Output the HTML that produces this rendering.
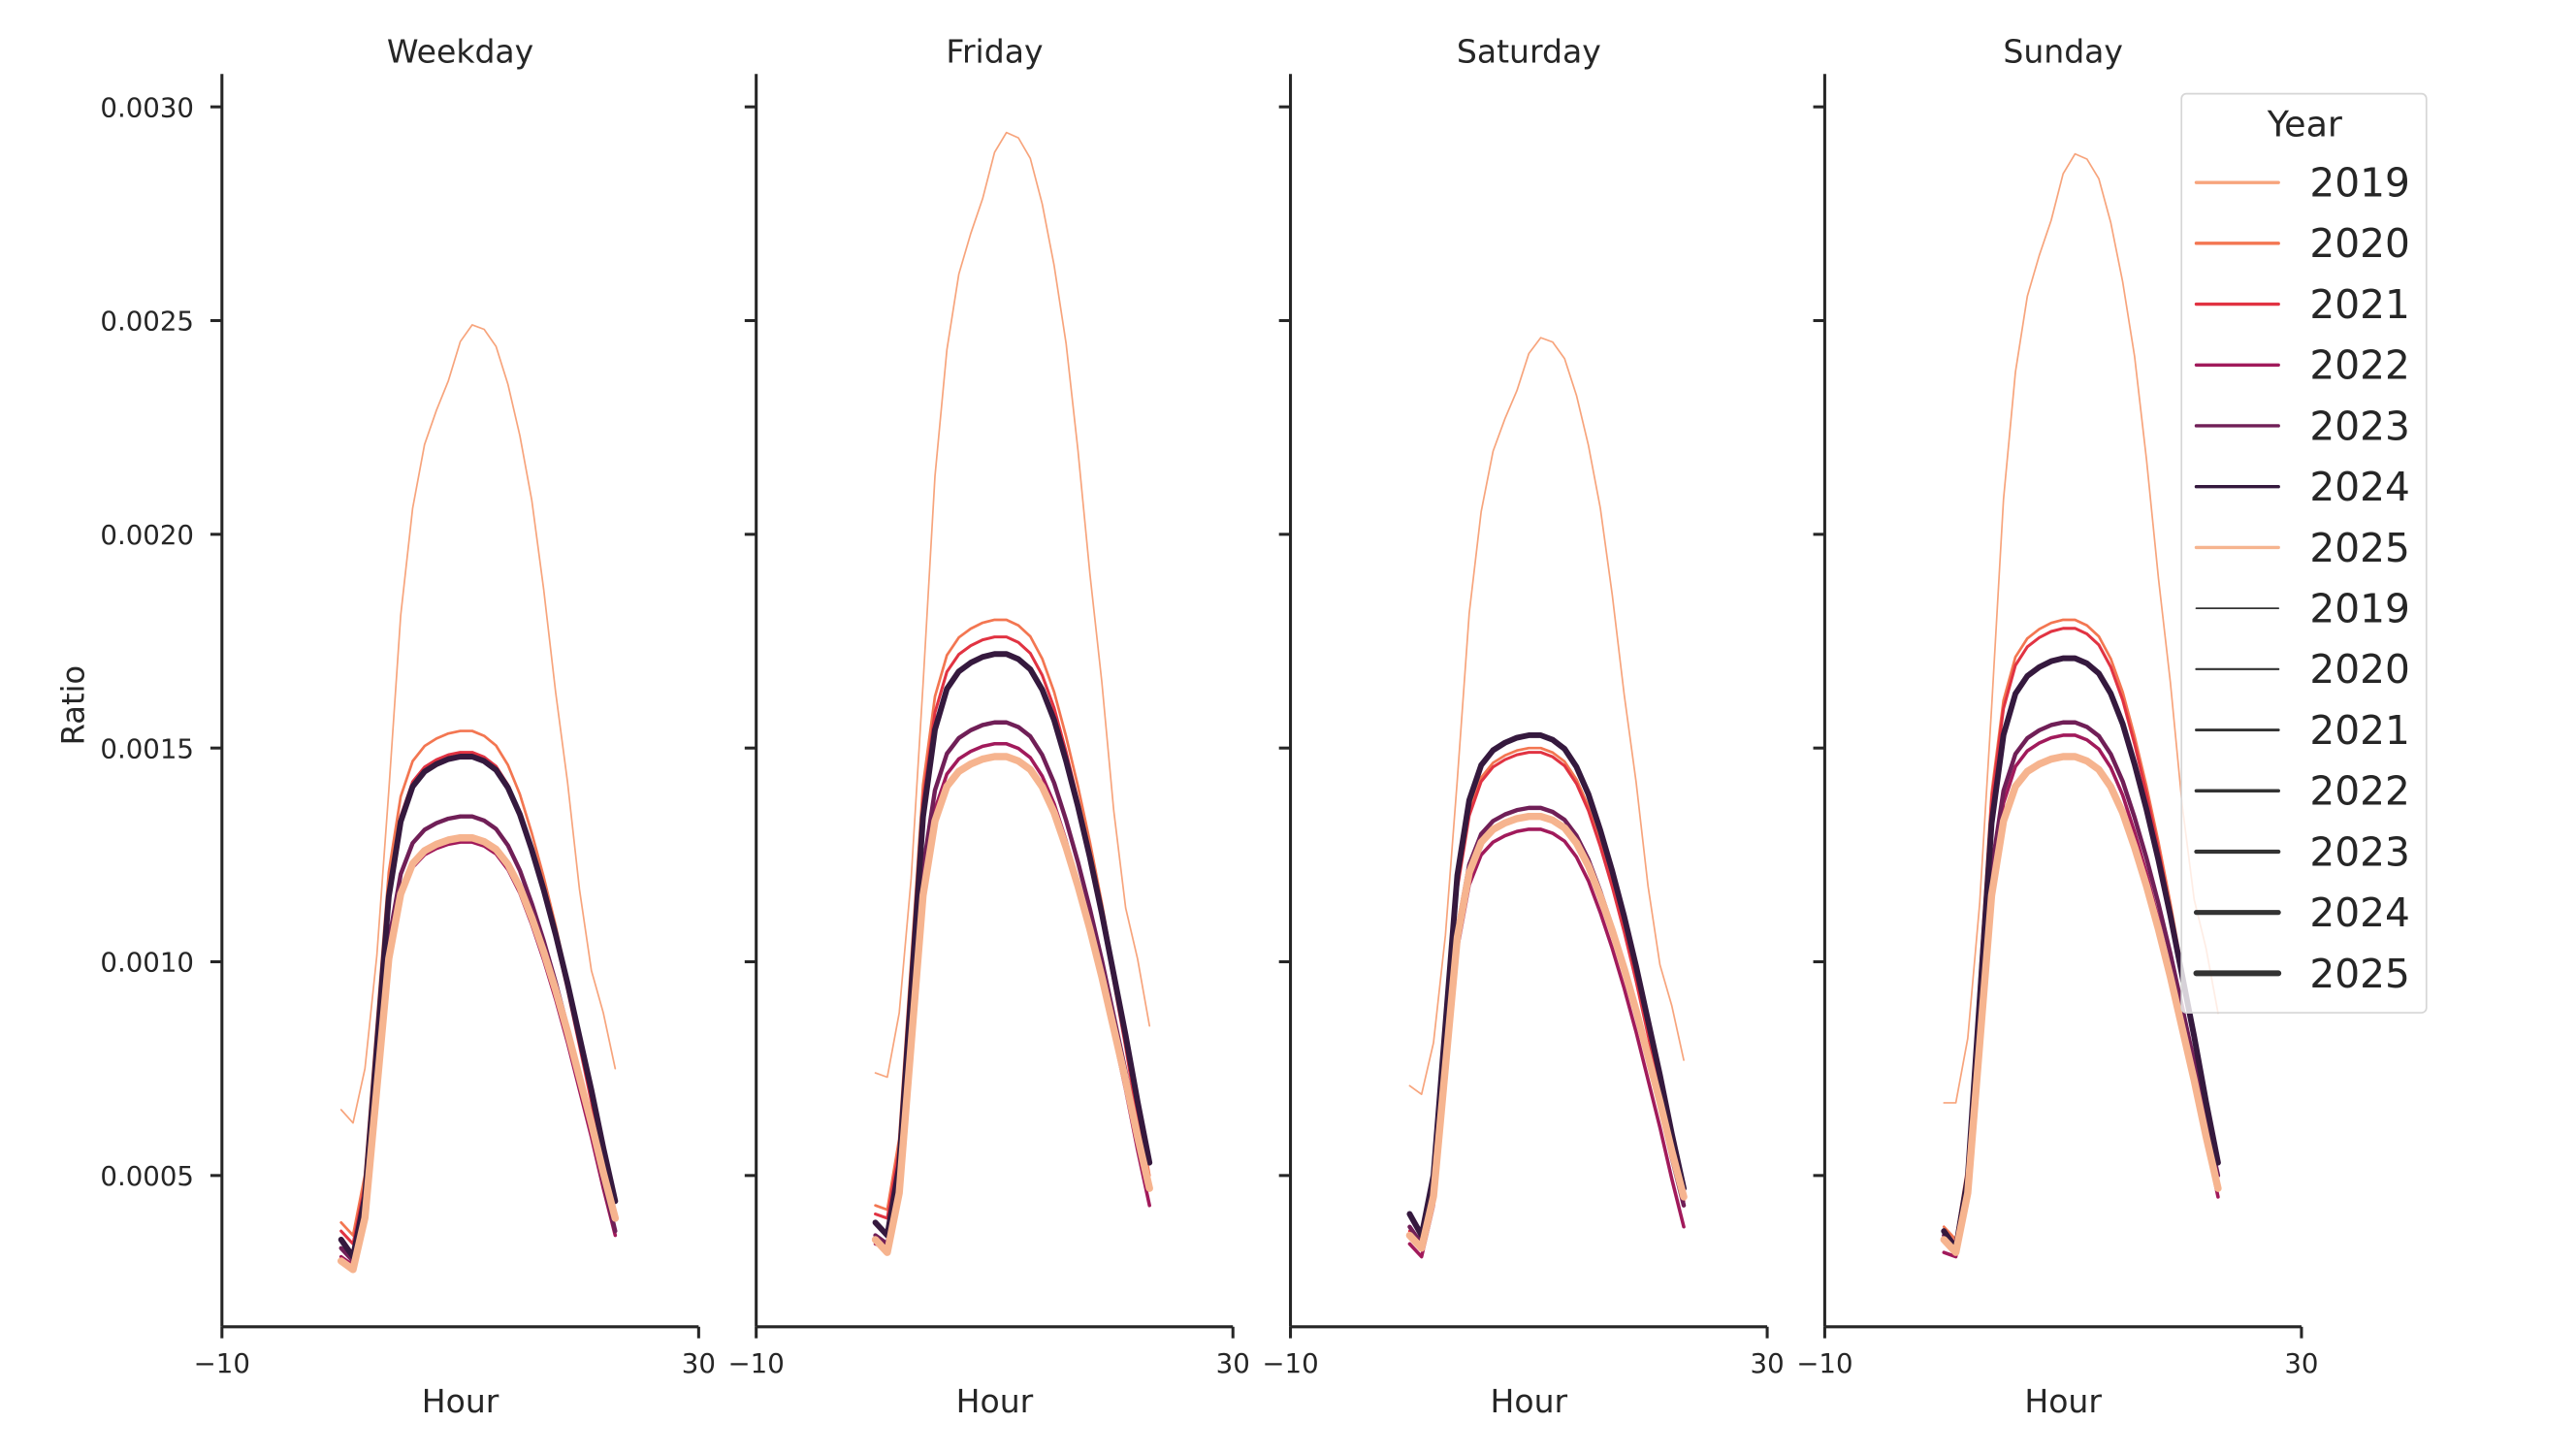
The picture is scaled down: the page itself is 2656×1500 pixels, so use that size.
<!DOCTYPE html>
<html><head><meta charset="utf-8"><style>
html,body{margin:0;padding:0;background:#fff}
svg{display:block}
text{font-family:"DejaVu Sans","Liberation Sans",sans-serif;fill:#262626}
</style></head><body>
<svg id="s" width="2656" height="1500" viewBox="0 0 1567 885" preserveAspectRatio="none" xmlns="http://www.w3.org/2000/svg"></svg>
<script>
var s=document.getElementById('s');var h='';
var panels=[["Weekday",135],["Friday",460],["Saturday",785],["Sunday",1110]];
function Y(v){return 715-(v-0.0005)*260000;}
var r19=[0.017,0,0.068,0.21,0.416,0.636,0.77,0.85,0.893,0.93,0.979,1];
var f19=[1,0.994,0.971,0.92,0.851,0.764,0.644,0.506,0.385,0.241,0.132,0.075,0];
var rO=[0.04,0,0.12,0.42,0.72,0.87,0.94,0.97,0.985,0.995,1,1];
var fO=[1,0.99,0.97,0.93,0.87,0.79,0.7,0.6,0.49,0.37,0.25,0.12,0];
var cols=["#f7a47c","#f37651","#e13342","#a11a5b","#701f57","#35193e","#f6b48f"];
var wid=[1.0,1.6,1.8,2.1,2.6,3.5,4.4];
var D=[
[[.000654,.000623,.00249,.00075],[.00039,.00036,.00154,.0004],[.00037,.00034,.00149,.0004],[.00031,.00029,.00128,.00036],[.00033,.0003,.00134,.00037],[.00035,.00031,.00148,.00044],[.0003,.00028,.00129,.0004]],
[[.00074,.00073,.00294,.00085],[.00043,.00042,.0018,.0005],[.00041,.0004,.00176,.00048],[.00034,.00033,.00151,.00043],[.00036,.00034,.00156,.00047],[.00039,.00036,.00172,.00053],[.00035,.00032,.00148,.00047]],
[[.00071,.00069,.00246,.00077],[.00037,.00035,.0015,.00045],[.00037,.00035,.00149,.00044],[.00034,.00031,.00131,.00038],[.00038,.00034,.00136,.00043],[.00041,.00036,.00153,.00047],[.00036,.00033,.00134,.00045]],
[[.00067,.00067,.00289,.00088],[.00038,.00035,.0018,.0005],[.00037,.00034,.00178,.00049],[.00032,.00031,.00153,.00045],[.00036,.00033,.00156,.0005],[.00037,.00033,.00171,.00053],[.00035,.00032,.00148,.00047]]];
panels.forEach(function(p,pi){
 var x0=p[1];
 h+='<text x="'+(x0+145)+'" y="38" font-size="19.5" text-anchor="middle">'+p[0]+'</text>';
 h+='<line x1="'+x0+'" y1="45" x2="'+x0+'" y2="807" stroke="#262626" stroke-width="1.8"/>';
 h+='<line x1="'+x0+'" y1="807" x2="'+(x0+290)+'" y2="807" stroke="#262626" stroke-width="1.8"/>';
 [x0,x0+290].forEach(function(xx){h+='<line x1="'+xx+'" y1="807" x2="'+xx+'" y2="814" stroke="#262626" stroke-width="1.8"/>';});
 h+='<text x="'+x0+'" y="835" font-size="16.3" text-anchor="middle">−10</text><text x="'+(x0+290)+'" y="835" font-size="16.3" text-anchor="middle">30</text>';
 h+='<text x="'+(x0+145)+'" y="859" font-size="19.5" text-anchor="middle">Hour</text>';
 [0.0005,0.001,0.0015,0.002,0.0025,0.003].forEach(function(v){var y=Y(v);
  h+='<line x1="'+(x0-7)+'" y1="'+y+'" x2="'+x0+'" y2="'+y+'" stroke="#262626" stroke-width="1.8"/>';
  if(pi==0)h+='<text x="118" y="'+(y+6)+'" font-size="16.3" text-anchor="end">'+v.toFixed(4)+'</text>';});
 D[pi].forEach(function(q,k){
  var r=k==0?r19:rO,f=k==0?f19:fO,pts=[];
  for(var t=0;t<=23;t++){var v;
   if(t==0)v=q[0];else if(t<=11)v=q[1]+(q[2]-q[1])*r[t];else v=q[3]+(q[2]-q[3])*f[t-11];
   pts.push((x0+72.5+7.25*t).toFixed(2)+','+Y(v).toFixed(2));}
  h+='<polyline points="'+pts.join(' ')+'" fill="none" stroke="'+cols[k]+'" stroke-width="'+wid[k]+'" stroke-linejoin="round" stroke-linecap="round"/>';
 });
});
h+='<text transform="translate(51,429) rotate(-90)" font-size="19" text-anchor="middle">Ratio</text>';
h+='<rect x="1327" y="57" width="149" height="559" rx="3" fill="#fff" fill-opacity="0.8" stroke="#d6d6d6" stroke-width="1"/>';
h+='<text x="1402" y="83" font-size="21.5" text-anchor="middle">Year</text>';
var yrs=[2019,2020,2021,2022,2023,2024,2025];
for(var i=0;i<14;i++){var y=111+37*i;var c=i<7?cols[i]:"#333";var w=i<7?2:[1,1.3,1.7,2.1,2.5,3,3.5][i-7];
 h+='<line x1="1336" y1="'+y+'" x2="1386" y2="'+y+'" stroke="'+c+'" stroke-width="'+w+'" stroke-linecap="round"/>';
 h+='<text x="1405" y="'+(y+8.5)+'" font-size="24">'+yrs[i%7]+'</text>';}
s.innerHTML=h;
</script>
</body></html>
